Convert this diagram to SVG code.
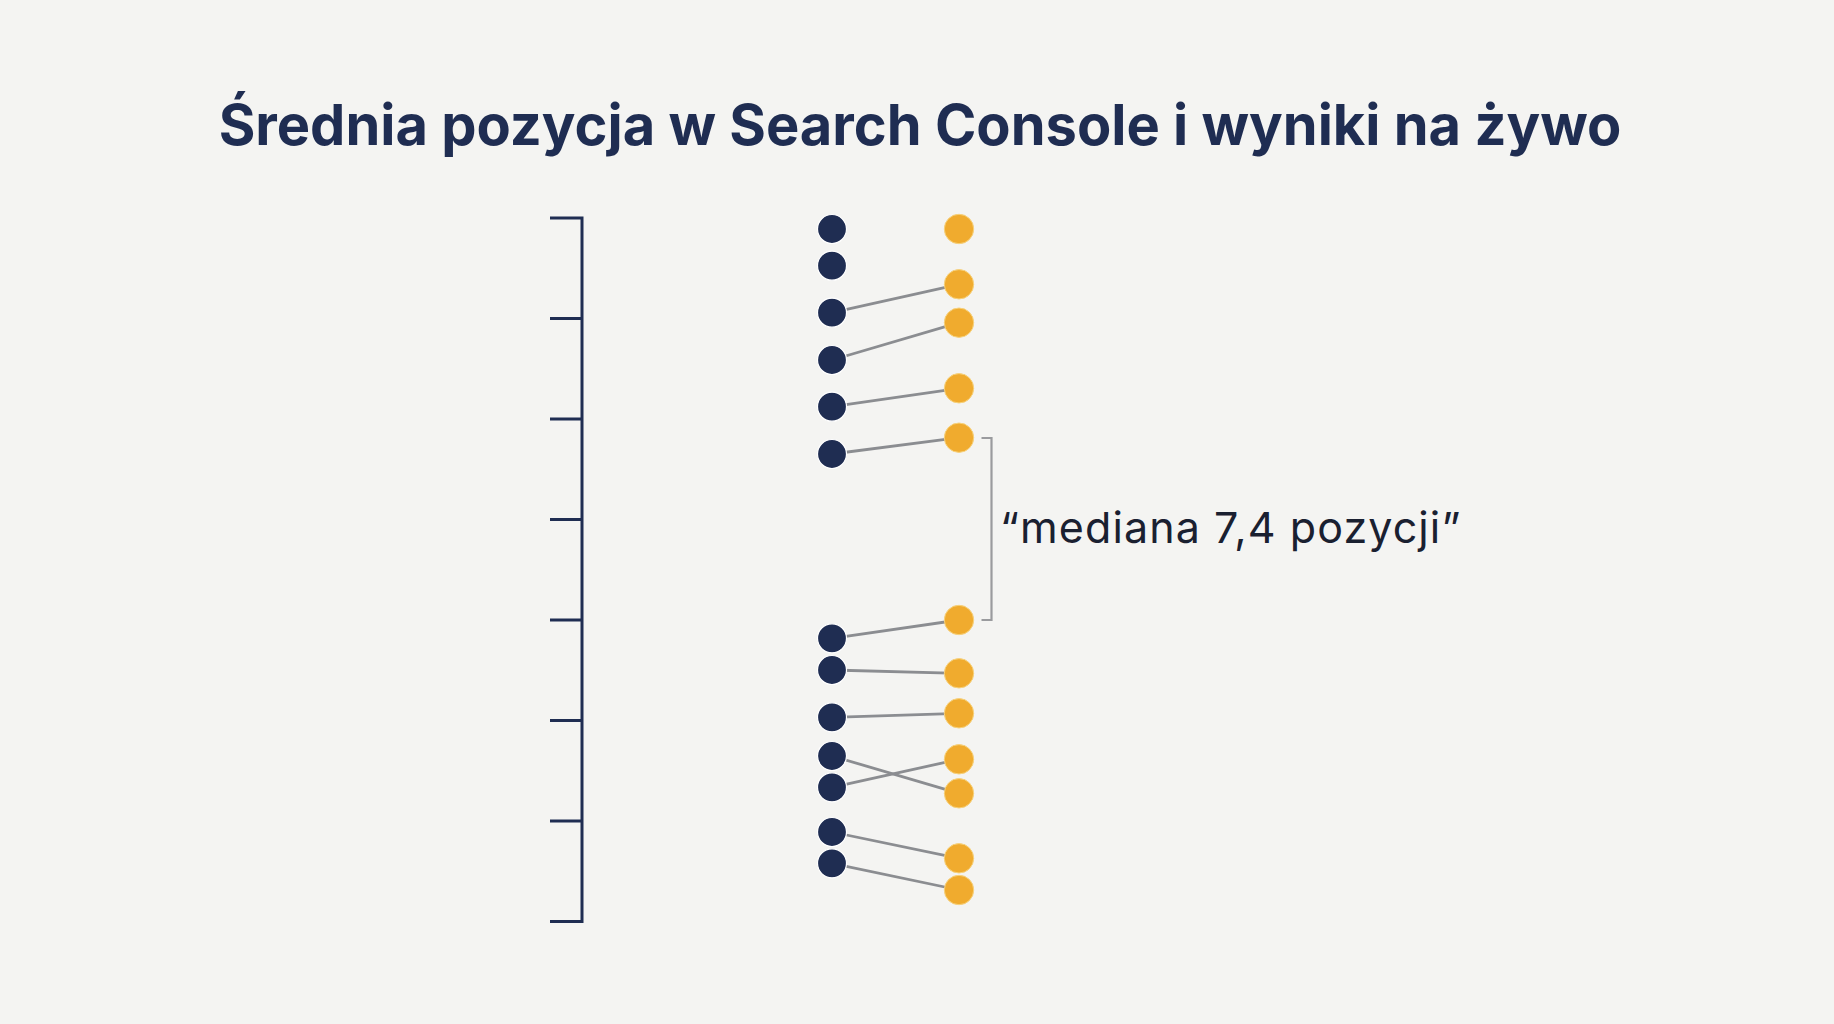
<svg xmlns="http://www.w3.org/2000/svg" width="1834" height="1024" viewBox="0 0 1834 1024">
  <style>
    .title { font-family: Inter, "Liberation Sans", sans-serif; font-weight: 700; font-size: 56px; fill: #1f2d52; }
    .label { font-family: Inter, "Liberation Sans", sans-serif; font-weight: 400; font-size: 43px; letter-spacing: 1.1px; fill: #1a2030; }
    .axis { stroke: #1f2d52; stroke-width: 3; fill: none; }
    .navy { fill: #1f2d52; stroke: #ffffff; stroke-width: 1.2; }
    .gold { fill: #f0ab2e; stroke: #f7d27c; stroke-width: 1; }
    .link { stroke: #8b8d91; stroke-width: 2.8; fill: none; }
    .bracket { stroke: #9a9b9e; stroke-width: 2.2; fill: none; }
  </style>
  <rect width="1834" height="1024" fill="#f4f4f2"/>

  <g id="title">
    <text class="title" x="920" y="145" text-anchor="middle">Średnia pozycja w Search Console i wyniki na żywo</text>
  </g>

  <g id="axis">
    <path class="axis" d="M550,218 H582 V921.5 H550"/>
    <path class="axis" d="M550,318.5 H582 M550,419 H582 M550,519.5 H582 M550,620 H582 M550,720.5 H582 M550,821 H582"/>
  </g>

  <g id="connectors">
    <line class="link" x1="832" y1="312.7" x2="959" y2="284.3"/>
    <line class="link" x1="832" y1="360" x2="959" y2="322.7"/>
    <line class="link" x1="832" y1="406.7" x2="959" y2="388.3"/>
    <line class="link" x1="832" y1="454" x2="959" y2="437.7"/>
    <line class="link" x1="832" y1="638.3" x2="959" y2="620"/>
    <line class="link" x1="832" y1="670" x2="959" y2="673.3"/>
    <line class="link" x1="832" y1="717.3" x2="959" y2="713.3"/>
    <line class="link" x1="832" y1="756" x2="959" y2="793.3"/>
    <line class="link" x1="832" y1="787.3" x2="959" y2="759.3"/>
    <line class="link" x1="832" y1="832" x2="959" y2="858.3"/>
    <line class="link" x1="832" y1="863.3" x2="959" y2="890"/>
  </g>

  <g id="live-results">
    <circle class="navy" cx="832" cy="229" r="14.5"/>
    <circle class="navy" cx="832" cy="265.7" r="14.5"/>
    <circle class="navy" cx="832" cy="312.7" r="14.5"/>
    <circle class="navy" cx="832" cy="360" r="14.5"/>
    <circle class="navy" cx="832" cy="406.7" r="14.5"/>
    <circle class="navy" cx="832" cy="454" r="14.5"/>
    <circle class="navy" cx="832" cy="638.3" r="14.5"/>
    <circle class="navy" cx="832" cy="670" r="14.5"/>
    <circle class="navy" cx="832" cy="717.3" r="14.5"/>
    <circle class="navy" cx="832" cy="756" r="14.5"/>
    <circle class="navy" cx="832" cy="787.3" r="14.5"/>
    <circle class="navy" cx="832" cy="832" r="14.5"/>
    <circle class="navy" cx="832" cy="863.3" r="14.5"/>
  </g>

  <g id="search-console">
    <circle class="gold" cx="959" cy="229" r="14.7"/>
    <circle class="gold" cx="959" cy="284.3" r="14.7"/>
    <circle class="gold" cx="959" cy="322.7" r="14.7"/>
    <circle class="gold" cx="959" cy="388.3" r="14.7"/>
    <circle class="gold" cx="959" cy="437.7" r="14.7"/>
    <circle class="gold" cx="959" cy="620" r="14.7"/>
    <circle class="gold" cx="959" cy="673.3" r="14.7"/>
    <circle class="gold" cx="959" cy="713.3" r="14.7"/>
    <circle class="gold" cx="959" cy="759.3" r="14.7"/>
    <circle class="gold" cx="959" cy="793.3" r="14.7"/>
    <circle class="gold" cx="959" cy="858.3" r="14.7"/>
    <circle class="gold" cx="959" cy="890" r="14.7"/>
  </g>

  <g id="median-note">
    <path class="bracket" d="M981.5,438 H991.5 V620 H981.5"/>
    <text class="label" x="1000" y="543">“mediana 7,4 pozycji”</text>
  </g>
</svg>
